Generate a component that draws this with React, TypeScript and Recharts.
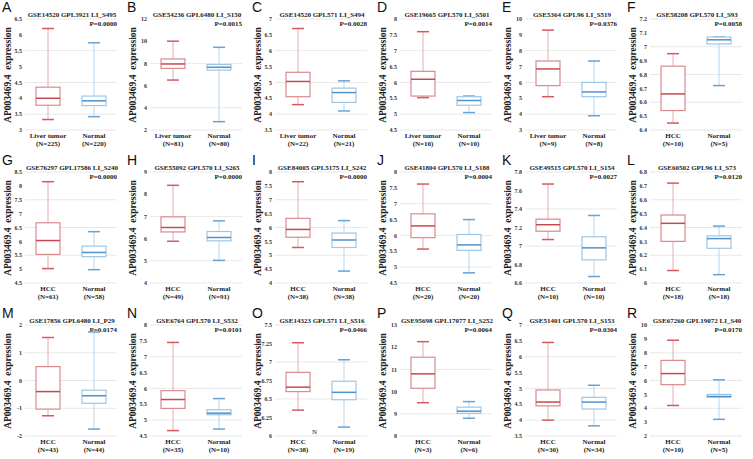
import { ComposedChart, Bar, XAxis, YAxis, CartesianGrid } from 'recharts';

const letters = ['A', 'B', 'C', 'D', 'E', 'F', 'G', 'H', 'I', 'J', 'K', 'L', 'M', 'N', 'O', 'P', 'Q', 'R'];

const titles = [
  'GSE14520 GPL3921 LI_S495', 'GSE54236 GPL6480 LI_S150', 'GSE14520 GPL571 LI_S494',
  'GSE19665 GPL570 LI_S501', 'GSE5364 GPL96 LI_S519', 'GSE58208 GPL570 LI_S93',
  'GSE76297 GPL17586 LI_S240', 'GSE55092 GPL570 LI_S265', 'GSE84005 GPL5175 LI_S242',
  'GSE41804 GPL570 LI_S188', 'GSE49515 GPL570 LI_S154', 'GSE60502 GPL96 LI_S73',
  'GSE17856 GPL6480 LI_P29', 'GSE6764 GPL570 LI_S532', 'GSE14323 GPL571 LI_S516',
  'GSE95698 GPL17077 LI_S252', 'GSE51401 GPL570 LI_S153', 'GSE67260 GPL19072 LI_S40',
];

const pValues = [
  '0.0000', '0.0015', '0.0028', '0.0014', '0.0376', '0.0058',
  '0.0000', '0.0000', '0.0000', '0.0004', '0.0027', '0.0120',
  '0.0174', '0.0101', '0.0466', '0.0064', '0.0304', '0.0170',
];

const tumorNames = [
  'Liver tumor', 'Liver tumor', 'Liver tumor', 'Liver tumor', 'Liver tumor', 'HCC',
  'HCC', 'HCC', 'HCC', 'HCC', 'HCC', 'HCC',
  'HCC', 'HCC', 'HCC', 'HCC', 'HCC', 'HCC',
];
const tumorN = [225, 81, 22, 10, 9, 10, 61, 49, 38, 20, 10, 18, 43, 35, 38, 3, 30, 10];
const normalN = [220, 80, 21, 10, 8, 5, 58, 91, 38, 20, 10, 18, 44, 10, 19, 6, 34, 5];

const yTicks = [
  [3, 3.5, 4, 4.5, 5, 5.5, 6, 6.5],
  [2, 4, 6, 8, 10, 12],
  [3.5, 4, 4.5, 5, 5.5, 6, 6.5, 7],
  [4.5, 5, 5.5, 6, 6.5, 7, 7.5, 8],
  [3, 4, 5, 6, 7, 8, 9, 10],
  [6.4, 6.5, 6.6, 6.7, 6.8, 6.9, 7, 7.1, 7.2],
  [4.5, 5, 5.5, 6, 6.5, 7, 7.5, 8, 8.5],
  [4, 5, 6, 7, 8, 9],
  [4, 4.5, 5, 5.5, 6, 6.5, 7, 7.5, 8],
  [4.5, 5, 5.5, 6, 6.5, 7, 7.5, 8],
  [6.6, 6.8, 7, 7.2, 7.4, 7.6, 7.8],
  [6, 6.1, 6.2, 6.3, 6.4, 6.5, 6.6, 6.7, 6.8],
  [-2, -1, 0, 1, 2],
  [4.5, 5, 5.5, 6, 6.5, 7, 7.5, 8],
  [6, 6.25, 6.5, 6.75, 7, 7.25, 7.5],
  [8, 9, 10, 11, 12, 13],
  [3.5, 4, 4.5, 5, 5.5, 6, 6.5, 7],
  [2, 3, 4, 5, 6, 7, 8, 9, 10],
];

// [min, q1, median, q3, max]
const tumorBox = [
  [3.33, 3.78, 4.0, 4.35, 6.2],
  [6.5, 7.55, 7.95, 8.4, 10.0],
  [4.3, 4.55, 5.03, 5.32, 6.7],
  [5.52, 5.57, 6.1, 6.35, 7.6],
  [5.1, 5.8, 6.85, 7.35, 9.3],
  [6.45, 6.54, 6.66, 6.86, 6.95],
  [5.02, 5.53, 6.03, 6.67, 8.15],
  [5.88, 6.3, 6.5, 6.98, 8.4],
  [5.28, 5.65, 5.93, 6.33, 7.65],
  [5.57, 5.93, 6.3, 6.68, 7.62],
  [7.07, 7.16, 7.23, 7.29, 7.67],
  [6.09, 6.3, 6.43, 6.49, 6.72],
  [-1.27, -1.03, -0.4, 0.5, 1.55],
  [4.67, 5.37, 5.65, 5.93, 7.45],
  [6.35, 6.6, 6.66, 6.86, 7.26],
  [9.5, 10.15, 10.8, 11.55, 12.25],
  [4.0, 4.45, 4.57, 4.95, 6.45],
  [4.2, 5.7, 6.5, 7.45, 8.9],
];

const normalBox = [
  [3.42, 3.77, 3.92, 4.07, 5.75],
  [2.75, 7.4, 7.65, 7.9, 9.45],
  [4.1, 4.37, 4.68, 4.82, 5.05],
  [5.05, 5.28, 5.43, 5.55, 5.57],
  [3.9, 5.1, 5.4, 6.0, 7.35],
  [6.72, 7.02, 7.05, 7.07, 7.07],
  [4.98, 5.45, 5.6, 5.83, 6.35],
  [5.02, 5.9, 6.05, 6.32, 6.8],
  [4.43, 5.28, 5.55, 5.8, 6.25],
  [4.82, 5.53, 5.7, 6.03, 6.5],
  [6.67, 6.85, 6.98, 7.1, 7.33],
  [6.06, 6.25, 6.32, 6.34, 6.41],
  [-1.75, -0.82, -0.55, -0.35, 1.75],
  [4.72, 5.17, 5.22, 5.33, 5.68],
  [6.12, 6.49, 6.59, 6.74, 7.03],
  [8.8, 9.02, 9.12, 9.3, 9.55],
  [3.82, 4.35, 4.57, 4.72, 5.1],
  [3.2, 4.8, 4.85, 5.0, 6.05],
];

const SERIF = '"Liberation Serif", "DejaVu Serif", serif';

const palette: Record<string, { box: string; mid: string; cap: string; wh: string }> = {
  tumor: { box: '#d98a8d', mid: '#c9484e', cap: '#d45a5f', wh: '#e6aeb0' },
  normal: { box: '#9fc6e3', mid: '#4f92cc', cap: '#66a3d6', wh: '#b7d6ec' },
};

const BoxShape = (props: any) => {
  const { x, y, width, height, payload } = props;
  const [mn, q1, md, q3, mx] = payload.stats;
  const top = Math.min(y, y + height);
  const h = Math.abs(height);
  const py = (v: number) => top + ((mx - v) / (mx - mn)) * h;
  const cx = x + width / 2;
  const c = palette[payload.kind];
  const capW = width * 0.5;
  return (
    <g>
      <line x1={cx} x2={cx} y1={py(mx)} y2={py(q3)} stroke={c.wh} strokeWidth={1} />
      <line x1={cx} x2={cx} y1={py(q1)} y2={py(mn)} stroke={c.wh} strokeWidth={1} />
      <line x1={cx - capW / 2} x2={cx + capW / 2} y1={py(mx)} y2={py(mx)} stroke={c.cap} strokeWidth={1.5} />
      <line x1={cx - capW / 2} x2={cx + capW / 2} y1={py(mn)} y2={py(mn)} stroke={c.cap} strokeWidth={1.5} />
      <rect x={x} y={py(q3)} width={width} height={py(q1) - py(q3)} fill="#fff" stroke={c.box} strokeWidth={1.2} />
      <line x1={x} x2={x + width} y1={py(md)} y2={py(md)} stroke={c.mid} strokeWidth={1.5} />
    </g>
  );
};

function Panel({ i }: { i: number }) {
  const ticks = yTicks[i];
  const data = [
    { name: tumorNames[i], n: tumorN[i], range: [tumorBox[i][0], tumorBox[i][4]], stats: tumorBox[i], kind: 'tumor' },
    { name: 'Normal', n: normalN[i], range: [normalBox[i][0], normalBox[i][4]], stats: normalBox[i], kind: 'normal' },
  ];
  const col = i % 6;
  const row = Math.floor(i / 6);

  const renderTick = (p: any) => {
    const d = data[p.index];
    return (
      <text x={p.x} y={p.y} textAnchor="middle" fontFamily={SERIF} fontSize={7} fontWeight="bold" fill="#222">
        <tspan x={p.x} dy={7.5}>{d.name}</tspan>
        <tspan x={p.x} dy={8.5}>(N={d.n})</tspan>
      </text>
    );
  };

  return (
    <div style={{ position: 'absolute', left: col * 125, top: row * 153, width: 125, height: 153 }}>
      <div style={{ position: 'absolute', left: 2, top: 0, fontFamily: '"Liberation Sans", Arial, sans-serif', fontSize: 14, lineHeight: '14px', color: '#111' }}>
        {letters[i]}
      </div>
      <div style={{ position: 'absolute', left: 72, top: 11, transform: 'translateX(-50%)', whiteSpace: 'nowrap', fontFamily: SERIF, fontSize: 7, fontWeight: 'bold', lineHeight: '8px', color: '#222' }}>
        {titles[i]}
      </div>
      <div style={{ position: 'absolute', right: 8, top: 20, whiteSpace: 'nowrap', fontFamily: SERIF, fontSize: 7, fontWeight: 'bold', lineHeight: '8px', color: '#222' }}>
        P={pValues[i]}
      </div>
      <div style={{ position: 'absolute', left: 8, top: 75, transform: 'translate(-50%, -50%) rotate(-90deg)', whiteSpace: 'nowrap', fontFamily: SERIF, fontSize: 9.5, fontWeight: 'bold', lineHeight: '10px', color: '#222' }}>
        AP003469.4&nbsp; expression
      </div>
      {i === 14 && (
        <div style={{ position: 'absolute', left: 62, top: 122, fontFamily: SERIF, fontSize: 7, lineHeight: '8px', color: '#222' }}>N</div>
      )}
      <ComposedChart width={125} height={150} data={data} margin={{ top: 19, right: 8, bottom: 0, left: 0 }} barCategoryGap="24%">
        <CartesianGrid vertical={false} stroke="#e8e8e8" />
        <XAxis dataKey="name" axisLine={false} tickLine={false} tickSize={0} tickMargin={0} height={20} interval={0} tick={renderTick} />
        <YAxis
          type="number"
          domain={[ticks[0], ticks[ticks.length - 1]]}
          ticks={ticks}
          allowDataOverflow
          width={25}
          axisLine={false}
          tickLine={false}
          tickSize={0}
          tickMargin={3}
          tick={{ fontFamily: SERIF, fontSize: 6, fontWeight: 'bold', fill: '#333' }}
        />
        <Bar dataKey="range" shape={BoxShape} barSize={24} isAnimationActive={false} />
      </ComposedChart>
    </div>
  );
}

export default function App() {
  return (
    <div style={{ position: 'absolute', left: 0, top: 0, width: 753, height: 459, background: '#fff', overflow: 'hidden' }}>
      {letters.map((_, i) => (
        <Panel key={i} i={i} />
      ))}
    </div>
  );
}
